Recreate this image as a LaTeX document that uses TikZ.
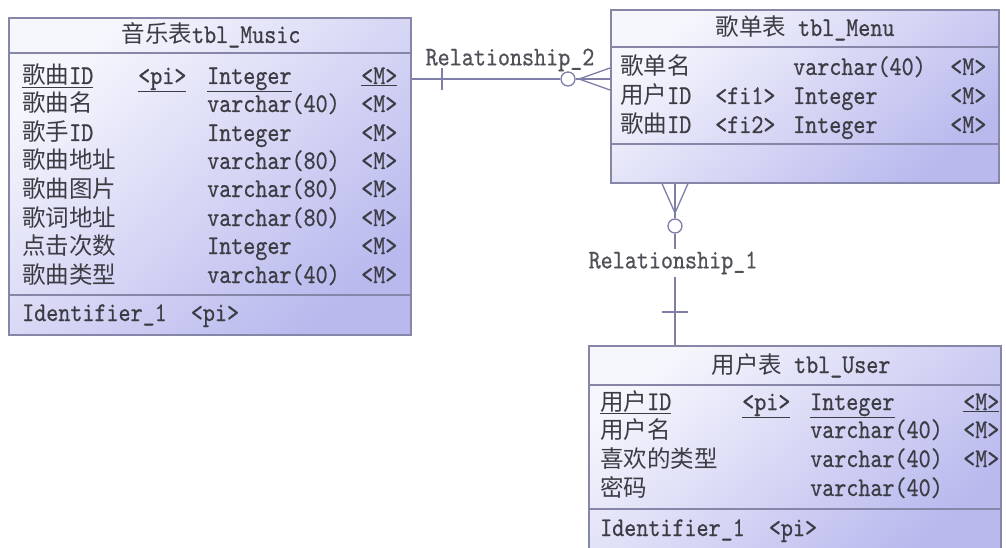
\documentclass[tikz,border=0pt]{standalone}
\usepackage{fontspec}
\newfontfamily\cjkfont{Noto Sans CJK SC}
\newfontfamily\ascfont[FakeStretch=0.85,FakeBold=0.6]{lmmono10-regular.otf}
\newcommand\zhf[1]{{\cjkfont\fontsize{23.5}{28}\selectfont #1}}
\definecolor{txtc}{HTML}{3C3C44}
\definecolor{relc}{HTML}{505058}
\definecolor{boxline}{HTML}{8686A8}
\definecolor{boxlight}{HTML}{F6F6FD}
\definecolor{boxdark}{HTML}{B9B9EE}
\definecolor{linec}{HTML}{7E7EA6}
\begin{document}
\begin{tikzpicture}[x=1pt,y=-1pt,
  tablebox/.style={draw=boxline, line width=1.6pt, rectangle, anchor=north west, inner sep=0pt,
    top color=boxlight, bottom color=boxdark, shading angle=40},
  sep/.style={draw=boxline, line width=1.4pt},
  cell/.style={anchor=base west, inner sep=0pt, text=txtc, font=\ascfont\fontsize{27}{30}\selectfont},
  title/.style={anchor=base, inner sep=0pt, text=txtc, font=\ascfont\fontsize{27}{30}\selectfont},
  rellabel/.style={inner sep=2pt, text=relc, font=\ascfont\fontsize{27}{30}\selectfont},
  conn/.style={draw=linec, line width=1.3pt},
  ring/.style={circle, draw=linec, line width=1.3pt, fill=white, minimum size=14pt, inner sep=0pt}
]
\useasboundingbox[fill=white] (0,0) rectangle (1006,548);

% ---------- tables ----------
\node[tablebox, minimum width=402pt, minimum height=317pt] (music) at (8,17) {};
\node[tablebox, minimum width=388pt, minimum height=173pt] (menu) at (610,9) {};
\node[tablebox, minimum width=412pt, minimum height=205pt] (user) at (588,345) {};

\draw[sep] (music.west |- 0,53) -- (music.east |- 0,53);
\draw[sep] (music.west |- 0,295) -- (music.east |- 0,295);
\draw[sep] (menu.west |- 0,47) -- (menu.east |- 0,47);
\draw[sep] (menu.west |- 0,144) -- (menu.east |- 0,144);
\draw[sep] (user.west |- 0,385) -- (user.east |- 0,385);
\draw[sep] (user.west |- 0,509) -- (user.east |- 0,509);

% ---------- music ----------
\node[title] (mt) at (211,43) {\zhf{音乐表}tbl\_Music};
\node[cell] (m1a) at (22,84) {\underline{\zhf{歌曲}ID}};
\node[cell] (m1b) at (138,84) {\underline{<pi>}};
\node[cell] (m1c) at (207,84) {\underline{Integer}};
\node[cell] (m1d) at (361,84) {\underline{<M>}};
\node[cell] (m2a) at (22,112) {\zhf{歌曲名}};
\node[cell] (m2c) at (207,112) {varchar(40)};
\node[cell] (m2d) at (361,112) {<M>};
\node[cell] (m3a) at (22,141) {\zhf{歌手}ID};
\node[cell] (m3c) at (207,141) {Integer};
\node[cell] (m3d) at (361,141) {<M>};
\node[cell] (m4a) at (22,169) {\zhf{歌曲地址}};
\node[cell] (m4c) at (207,169) {varchar(80)};
\node[cell] (m4d) at (361,169) {<M>};
\node[cell] (m5a) at (22,197) {\zhf{歌曲图片}};
\node[cell] (m5c) at (207,197) {varchar(80)};
\node[cell] (m5d) at (361,197) {<M>};
\node[cell] (m6a) at (22,226) {\zhf{歌词地址}};
\node[cell] (m6c) at (207,226) {varchar(80)};
\node[cell] (m6d) at (361,226) {<M>};
\node[cell] (m7a) at (22,254) {\zhf{点击次数}};
\node[cell] (m7c) at (207,254) {Integer};
\node[cell] (m7d) at (361,254) {<M>};
\node[cell] (m8a) at (22,283) {\zhf{歌曲类型}};
\node[cell] (m8c) at (207,283) {varchar(40)};
\node[cell] (m8d) at (361,283) {<M>};
\node[cell] (mid) at (22,321) {Identifier\_1\ \ <pi>};

% ---------- menu ----------
\node[title] (nt) at (805,36) {\zhf{歌单表} tbl\_Menu};
\node[cell] (n1a) at (620,75) {\zhf{歌单名}};
\node[cell] (n1c) at (793,75) {varchar(40)};
\node[cell] (n1d) at (950,75) {<M>};
\node[cell] (n2a) at (620,104) {\zhf{用户}ID};
\node[cell] (n2b) at (715,104) {<fi1>};
\node[cell] (n2c) at (793,104) {Integer};
\node[cell] (n2d) at (950,104) {<M>};
\node[cell] (n3a) at (620,133) {\zhf{歌曲}ID};
\node[cell] (n3b) at (715,133) {<fi2>};
\node[cell] (n3c) at (793,133) {Integer};
\node[cell] (n3d) at (950,133) {<M>};

% ---------- user ----------
\node[title] (ut) at (801,373) {\zhf{用户表} tbl\_User};
\node[cell] (u1a) at (600,410) {\underline{\zhf{用户}ID}};
\node[cell] (u1b) at (742,410) {\underline{<pi>}};
\node[cell] (u1c) at (810,410) {\underline{Integer}};
\node[cell] (u1d) at (963,410) {\underline{<M>}};
\node[cell] (u2a) at (600,438) {\zhf{用户名}};
\node[cell] (u2c) at (810,438) {varchar(40)};
\node[cell] (u2d) at (963,438) {<M>};
\node[cell] (u3a) at (600,467) {\zhf{喜欢的类型}};
\node[cell] (u3c) at (810,467) {varchar(40)};
\node[cell] (u3d) at (963,467) {<M>};
\node[cell] (u4a) at (600,496) {\zhf{密码}};
\node[cell] (u4c) at (810,496) {varchar(40)};
\node[cell] (uid) at (600,536) {Identifier\_1\ \ <pi>};

% ---------- Relationship_2 (music -- menu) ----------
\node[rellabel] (r2) at (510,60) {Relationship\_2};
\node[ring] (c2) at (568,79) {};
\coordinate (f2) at (579,79);
\draw[conn] (music.east |- c2) -- (c2.west);
\draw[conn] (c2.east) -- (f2);
\draw[conn] (f2) -- (menu.west |- 0,68);
\draw[conn] (f2) -- (menu.west |- c2);
\draw[conn] (f2) -- (menu.west |- 0,90);
\coordinate (t2) at (442,79);
\draw[conn] ([yshift=11pt]t2) -- ([yshift=-11pt]t2);

% ---------- Relationship_1 (menu -- user) ----------
\node[rellabel] (r1) at (673,263) {Relationship\_1};
\node[ring] (c1) at (675,226) {};
\coordinate (f1) at (675,213);
\draw[conn] (menu.south -| 662,0) -- (f1);
\draw[conn] (menu.south -| c1) -- (f1);
\draw[conn] (menu.south -| 688,0) -- (f1);
\draw[conn] (f1) -- (c1.north);
\draw[conn] (c1.south) -- (c1 |- r1.north);
\draw[conn] (c1 |- r1.south) -- (user.north -| c1);
\coordinate (t1) at (675,312);
\draw[conn] ([xshift=-13pt]t1) -- ([xshift=13pt]t1);
\end{tikzpicture}
\end{document}
